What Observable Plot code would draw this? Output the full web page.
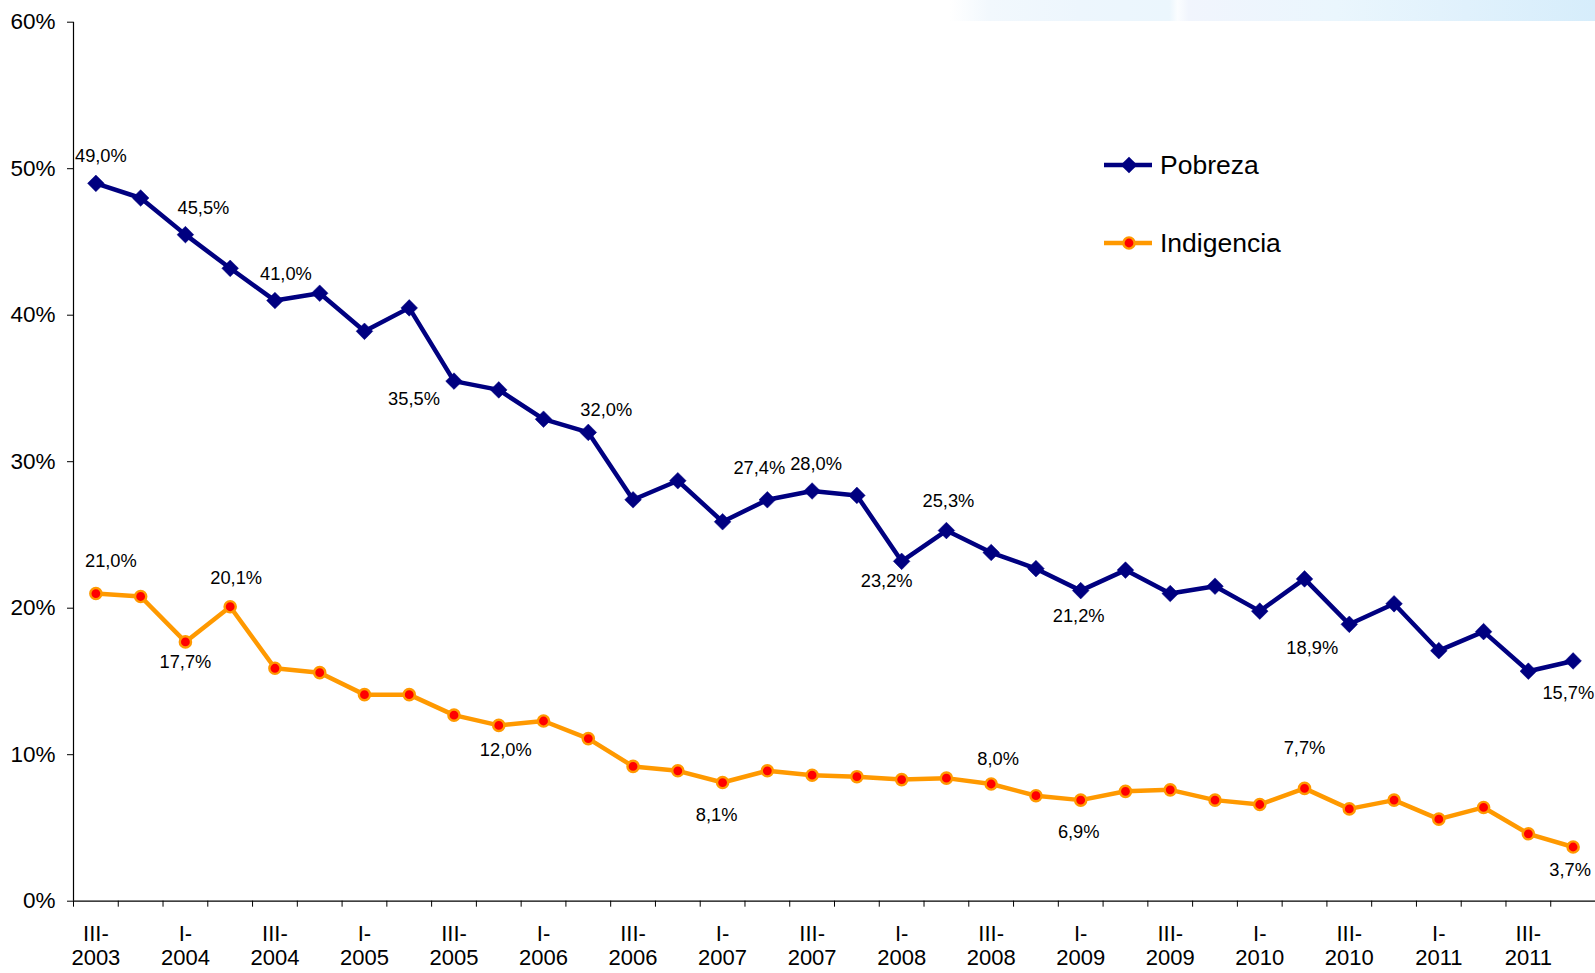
<!DOCTYPE html>
<html>
<head>
<meta charset="utf-8">
<script src="https://cdn.jsdelivr.net/npm/d3@7"></script>
<script src="https://cdn.jsdelivr.net/npm/@observablehq/plot@0.6"></script>
<style>
  html, body { margin: 0; padding: 0; background: #fff; }
  #wrap { position: relative; width: 1595px; height: 973px; font-family: "Liberation Sans", Arial, sans-serif; }
  #band { position: absolute; left: 950px; top: 0; width: 645px; height: 21px;
    background: linear-gradient(to right, rgba(255,255,255,1) 0%, #f2f8fd 6%, #edf6fd 20%, #ebf6fd 34%, #fbfdff 35.3%, #f1f5fd 37%, #eaf6fd 60%, #e0f1fc 80%, #d6edfb 100%); }
  #chart { position: absolute; left: 0; top: 0; }
  #legend { position: absolute; left: 0; top: 0; pointer-events: none; }
</style>
</head>
<body>
<div id="wrap">
  <div id="band"></div>
  <div id="chart"></div>
  <svg id="legend" width="1595" height="973"></svg>
</div>
<script>
// ---- data ----
const periods = ["III-2003","IV-2003","I-2004","II-2004","III-2004","IV-2004","I-2005","II-2005",
  "III-2005","IV-2005","I-2006","II-2006","III-2006","IV-2006","I-2007","II-2007","III-2007","IV-2007",
  "I-2008","II-2008","III-2008","IV-2008","I-2009","II-2009","III-2009","IV-2009","I-2010","II-2010",
  "III-2010","IV-2010","I-2011","II-2011","III-2011","IV-2011"];
const pobreza = [49.0, 48.0, 45.5, 43.2, 41.0, 41.5, 38.9, 40.5, 35.5, 34.9, 32.9, 32.0, 27.4, 28.7,
  25.9, 27.4, 28.0, 27.7, 23.2, 25.3, 23.8, 22.7, 21.2, 22.6, 21.0, 21.5, 19.8, 22.0, 18.9, 20.3,
  17.1, 18.4, 15.7, 16.4];
const indigencia = [21.0, 20.8, 17.7, 20.1, 15.9, 15.6, 14.1, 14.1, 12.7, 12.0, 12.3, 11.1, 9.2, 8.9,
  8.1, 8.9, 8.6, 8.5, 8.3, 8.4, 8.0, 7.2, 6.9, 7.5, 7.6, 6.9, 6.6, 7.7, 6.3, 6.9, 5.6, 6.4, 4.6, 3.7];
const yTicks = [0, 10, 20, 30, 40, 50, 60];
const seriesNames = ["Pobreza", "Indigencia"];
// which points carry a value label
const pobrezaLabelIdx = [0, 2, 4, 8, 11, 15, 16, 18, 19, 22, 28, 32];
const indigenciaLabelIdx = [0, 2, 3, 9, 14, 20, 22, 27, 33];

// ---- label placement (pixel offsets from the point) ----
const pobrezaOffsets = [[5,-27],[18,-26],[11,-26],[-40,18],[18,-22],[-8,-32],[4,-27],[-15,20],[2,-29],[-2,26],[-37,24],[40,22]];
const indigenciaOffsets = [[15,-32],[0,20],[6,-29],[7,25],[-6,33],[7,-25],[-2,32],[0,-40],[-3,23]];

const NAVY = "#000080", ORANGE = "#FF9900", RED = "#FF0000";
const FONT = "'Liberation Sans', Arial, sans-serif";
const fmt = v => v.toFixed(1).replace(".", ",") + "%";

const pobRows = periods.map((p, i) => ({i, p, v: pobreza[i]}));
const indRows = periods.map((p, i) => ({i, p, v: indigencia[i]}));
const boundaries = periods.map((p, i) => i - 0.5);
const tickRows = periods.map((p, i) => ({i, p})).filter(d => d.i % 2 === 0);

const labelMarks = [];
pobrezaLabelIdx.forEach((idx, k) => {
  labelMarks.push(Plot.text([pobRows[idx]], {x: "i", y: "v", text: d => fmt(d.v),
    dx: pobrezaOffsets[k][0], dy: pobrezaOffsets[k][1], fontSize: 18.3, fill: "#000"}));
});
indigenciaLabelIdx.forEach((idx, k) => {
  labelMarks.push(Plot.text([indRows[idx]], {x: "i", y: "v", text: d => fmt(d.v),
    dx: indigenciaOffsets[k][0], dy: indigenciaOffsets[k][1], fontSize: 18.3, fill: "#000"}));
});

const chart = Plot.plot({
  width: 1595,
  height: 973,
  marginLeft: 73,
  marginRight: 0,
  marginTop: 21.7,
  marginBottom: 72.3,
  x: {type: "linear", domain: [-0.5, periods.length - 0.5]},
  y: {type: "linear", domain: [0, 60]},
  style: {fontFamily: FONT, background: "transparent", color: "#000", overflow: "visible"},
  marks: [
    Plot.axisY({ticks: yTicks, tickSize: 6, tickPadding: 12, tickFormat: d => d + "%",
      fontSize: 22.5, label: null, stroke: "#000"}),
    Plot.axisX({ticks: boundaries, tickSize: 6, tickFormat: () => "", label: null, stroke: "#000"}),
    Plot.text(tickRows, {x: "i", y: () => 0, text: d => d.p.replace("-", "-\n"),
      lineAnchor: "top", dy: 23.5, fontSize: 22, lineHeight: 1.07, fill: "#000"}),
    Plot.ruleY([0], {stroke: "#000", strokeWidth: 1.2}),
    Plot.ruleX([-0.5], {y1: 0, y2: 60, stroke: "#000", strokeWidth: 1.2}),
    Plot.line(pobRows, {x: "i", y: "v", stroke: NAVY, strokeWidth: 4.5}),
    Plot.dot(pobRows, {x: "i", y: "v", symbol: "diamond2", r: 7.5, fill: NAVY, stroke: NAVY, strokeWidth: 0.5}),
    Plot.line(indRows, {x: "i", y: "v", stroke: ORANGE, strokeWidth: 4.5}),
    Plot.dot(indRows, {x: "i", y: "v", r: 5.6, fill: RED, stroke: ORANGE, strokeWidth: 2.4}),
    ...labelMarks
  ]
});
document.getElementById("chart").appendChild(chart);

// ---- legend ----
const lg = d3.select("#legend");
const rows = [{name: seriesNames[0], cy: 165}, {name: seriesNames[1], cy: 243}];
rows.forEach((r, k) => {
  const g = lg.append("g");
  g.append("line").attr("x1", 1104).attr("x2", 1152).attr("y1", r.cy).attr("y2", r.cy)
    .attr("stroke", k === 0 ? NAVY : ORANGE).attr("stroke-width", 4.5);
  if (k === 0) {
    g.append("path").attr("d", d3.symbol(d3.symbolDiamond2, Math.PI * 7.5 * 7.5)())
      .attr("transform", `translate(1129,${r.cy})`).attr("fill", NAVY);
  } else {
    g.append("circle").attr("cx", 1129).attr("cy", r.cy).attr("r", 5.6)
      .attr("fill", RED).attr("stroke", ORANGE).attr("stroke-width", 2.4);
  }
  g.append("text").attr("x", 1160).attr("y", r.cy).attr("dy", "0.35em")
    .attr("font-family", FONT).attr("font-size", 26.5)
    .attr("fill", "#000").text(r.name);
});
</script>
</body>
</html>
